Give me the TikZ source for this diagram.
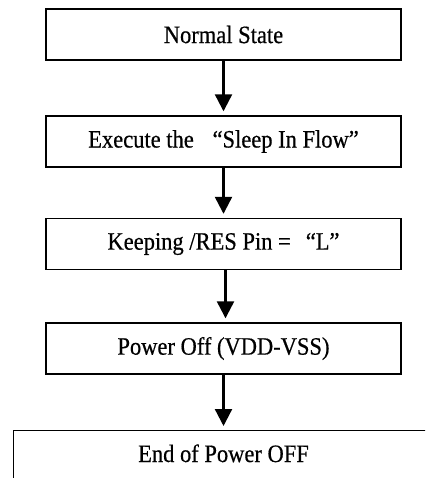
\documentclass[tikz,border=0pt]{standalone}
\usepackage{fontspec}
\setmainfont{Liberation Serif}[FakeStretch=0.9,FakeBold=0.5]
\usetikzlibrary{arrows.meta}
\begin{document}
\begin{tikzpicture}[x=1pt,y=-1pt,
  stepbox/.style={draw, line width=1.4pt, minimum width=355pt, minimum height=51pt, inner sep=0pt,
     font=\fontsize{25}{28}\selectfont},
  flow/.style={line width=2.3pt, -{Triangle[width=17pt,length=17pt]}, shorten >=4pt}]
\useasboundingbox (0,0) rectangle (425,478);
\clip (0,0) rectangle (425,478);
\node[stepbox] (n1) at (223.5,34.5) {Normal State};
\node[stepbox] (n2) at (223.5,141.5) {Execute the\hspace{0.75em}“Sleep In Flow”\hspace{0.6em}};
\node[stepbox] (n3) at (223.5,244) {Keeping /RES Pin =\hspace{0.6em}“L”\hspace{0.6em}};
\node[stepbox] (n4) at (223.5,348.5) {Power Off (VDD-VSS)};
\node[draw, line width=1.4pt, anchor=north west, minimum width=460pt, minimum height=80pt, inner sep=0pt] (n5) at (13,430) {};
\node[font=\fontsize{25}{28}\selectfont, anchor=base] (t5) at (223.5,462) {End of Power OFF};
\draw[flow] (n1.south) -- (n2.north);
\draw[flow] (n2.south) -- (n3.north);
\draw[flow] ([xshift=2pt]n3.south) -- ([xshift=2pt]n4.north);
\draw[flow] (n4.south) -- (n4.south |- n5.north);
\end{tikzpicture}
\end{document}
